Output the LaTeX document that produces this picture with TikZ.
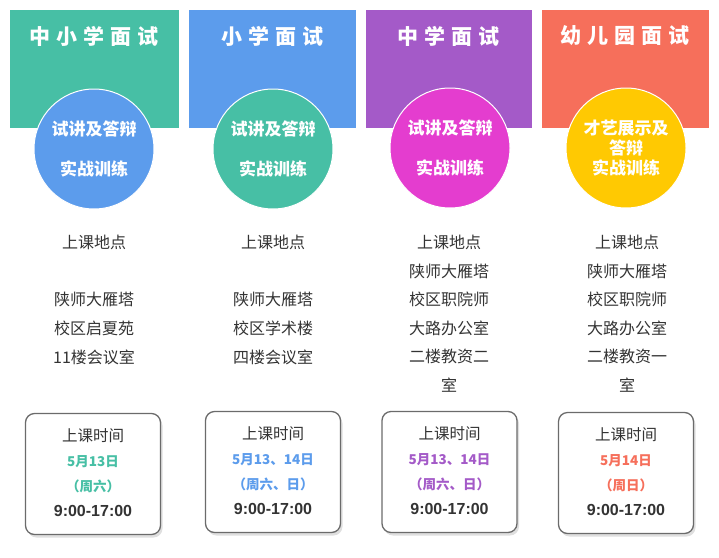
\documentclass[tikz,border=0pt]{standalone}
\usepackage{fontspec}
\setmainfont{Noto Sans CJK SC}
\newfontfamily\widecjk[LetterSpace=28]{Noto Sans CJK SC}
\newfontfamily\arialfont{Liberation Sans}
\usetikzlibrary{positioning,shadows}
\definecolor{mint}{HTML}{47BFA5}
\definecolor{sky}{HTML}{5C9CEC}
\definecolor{grape}{HTML}{A45AC8}
\definecolor{coral}{HTML}{F66F5B}
\definecolor{rose}{HTML}{E43DCF}
\definecolor{amber}{HTML}{FFC902}
\definecolor{ink}{HTML}{333333}
\tikzset{
	hd/.style={fill=#1, anchor=north west, minimum height=118pt, inner sep=0pt},
	hd title/.style={text=white, inner sep=0pt,
		font=\widecjk\bfseries\fontsize{21}{21}\selectfont},
	disc/.style={circle, fill=#1, draw=white, line width=1pt, minimum size=120pt,
		inner sep=0pt, text=white, align=center,
		font=\bfseries\fontsize{17}{40}\selectfont},
	place/.style={text=ink, inner sep=0pt, font=\fontsize{16}{16}\selectfont},
	timebox/.style={draw=black!58, line width=1.3pt, rounded corners=9pt, fill=white,
		minimum width=135pt, minimum height=121pt,
		drop shadow={shadow xshift=2pt, shadow yshift=-3pt, opacity=.25}},
	when/.style={text=#1, inner sep=0pt, font=\bfseries\fontsize{13.5}{13.5}\selectfont},
	hours/.style={text=ink, inner sep=0pt, font=\arialfont\bfseries\fontsize{16}{16}\selectfont}
}

\begin{document}
\begin{tikzpicture}[x=1pt, y=-1pt]
	\useasboundingbox (0,0) rectangle (719,557);
	% header blocks
	\foreach \n/\x/\w/\hc/\t in {1/10/169/mint/中小学面试, 2/189/167/sky/小学面试,
			3/366/166/grape/中学面试, 4/542/167/coral/幼儿园面试} {
		\node[hd=\hc, minimum width=\w] (h\n) at (\x,10) {};
		\node[hd title] (t\n) at ([xshift=-0.5pt,yshift=-26pt]h\n.north) {\t};
	}
	% circles
	\node[disc=sky]   (c1) at (94,149)  {试讲及答辩\\实战训练};
	\node[disc=mint]  (c2) at (273,149) {试讲及答辩\\实战训练};
	\node[disc=rose]  (c3) at (450,148) {试讲及答辩\\实战训练};
	\node[disc=amber, font=\bfseries\fontsize{17}{20}\selectfont]
		(c4) at (626,148) {才艺展示及\\答辩\\实战训练};
	% where
	\foreach \x/\lines [count=\n] in {
			94/{上课地点,{},陕师大雁塔,校区启夏苑,11楼会议室},
			273/{上课地点,{},陕师大雁塔,校区学术楼,四楼会议室},
			449/{上课地点,陕师大雁塔,校区职院师,大路办公室,二楼教资二,室},
			627/{上课地点,陕师大雁塔,校区职院师,大路办公室,二楼教资一,室}} {
		\foreach \t [count=\k] in \lines
			\node[place] (p\n-\k) at (\x,{242.5+28.6*(\k-1)}) {\t};
	}
	% when
	\foreach \n/\x/\y/\col/\d/\wk in {1/93/474/mint/5月13日/（周六）,
			2/273/472/sky/5月13、14日/（周六、日）,
			3/449.5/472/grape/5月13、14日/（周六、日）,
			4/626/473/coral/5月14日/（周日）} {
		\node[timebox] (b\n) at (\x,\y) {};
		\node[place, font=\fontsize{15.5}{15.5}\selectfont] (s\n) at ([yshift=38pt]b\n.center) {上课时间};
		\node[when=\col] (d\n) at ([yshift=12pt]b\n.center) {\d};
		\node[when=\col] (w\n) at ([yshift=-12pt]b\n.center) {\wk};
		\node[hours] (r\n) at ([yshift=-37pt]b\n.center) {9:00-17:00};
	}
\end{tikzpicture}
\end{document}
